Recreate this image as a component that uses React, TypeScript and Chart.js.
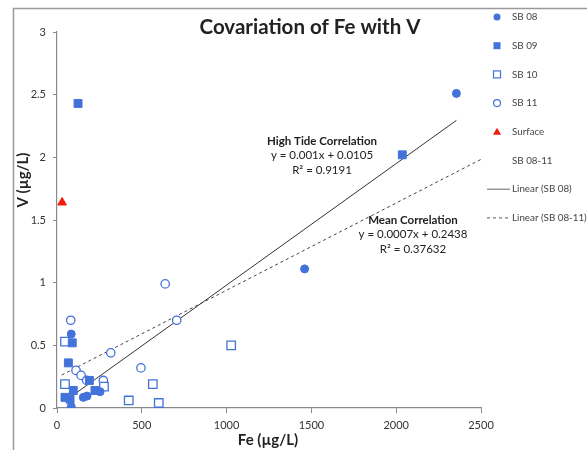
import { useEffect, useRef } from "react";
import { Chart, registerables } from "chart.js";

Chart.register(...registerables);

// ---- data ----
const sb08X = [2355, 1460, 84, 84, 155, 177, 254];
const sb08Y = [2.51, 1.11, 0.59, 0.01, 0.085, 0.095, 0.13];

const sb09X = [124, 2036, 90, 67, 191, 96, 47, 77, 224];
const sb09Y = [2.43, 2.02, 0.52, 0.36, 0.22, 0.14, 0.085, 0.07, 0.14];

const sb10X = [47, 47, 277, 423, 565, 600, 1027];
const sb10Y = [0.53, 0.19, 0.17, 0.06, 0.19, 0.04, 0.5];

const sb11X = [81, 112, 142, 175, 273, 317, 495, 638, 706];
const sb11Y = [0.7, 0.3, 0.26, 0.22, 0.22, 0.44, 0.32, 0.99, 0.7];

const surfaceX = [30];
const surfaceY = [1.64];

// trendlines: [slope, intercept] and x-range drawn
const highTideFit = [0.00097, 0.0105];
const highTideRange = [82, 2355];
const meanFit = [0.000696, 0.2438];
const meanRange = [28, 2500];

const xTickValues = [0, 500, 1000, 1500, 2000, 2500];
const yTickValues = [0, 0.5, 1, 1.5, 2, 2.5, 3];

const legendLabels = [
  "SB 08",
  "SB 09",
  "SB 10",
  "SB 11",
  "Surface",
  "SB 08-11",
  "Linear (SB 08)",
  "Linear (SB 08-11)",
];

const titleText = "Covariation of Fe with V";
const xTitle = "Fe (µg/L)";
const yTitle = "V (µg/L)";
const highTideLines = ["High Tide Correlation", "y = 0.001x + 0.0105", "R² = 0.9191"];
const meanLines = ["Mean Correlation", "y = 0.0007x + 0.2438", "R² = 0.37632"];

// ---- styles ----
const FONT = "Lato, 'Open Sans', sans-serif";
const BLUE = "#4472DB";
const RED = "#F21A0C";
const TEXT = "#222";
const AXIS = "#8a8a8a";

const zip = (xs: number[], ys: number[]) => xs.map((x, i) => ({ x, y: ys[i] }));
const fitLine = (fit: number[], range: number[]) =>
  range.map((x) => ({ x, y: fit[0] * x + fit[1] }));

type Marker = "circle" | "square" | "openSquare" | "openCircle" | "triangle" | "none" | "solid" | "dashed";
const legendMarkers: Marker[] = [
  "circle",
  "square",
  "openSquare",
  "openCircle",
  "triangle",
  "none",
  "solid",
  "dashed",
];

const decorPlugin = {
  id: "decor",
  beforeDraw(chart: any) {
    const ctx = chart.ctx;
    ctx.save();
    ctx.fillStyle = "#fff";
    ctx.fillRect(0, 0, chart.width, chart.height);
    // outer frame (top & left edges visible)
    ctx.strokeStyle = "#9a9a9a";
    ctx.lineWidth = 1.5;
    ctx.beginPath();
    ctx.moveTo(13.5, chart.height + 2);
    ctx.lineTo(13.5, 8.5);
    ctx.lineTo(chart.width + 2, 8.5);
    ctx.stroke();
    ctx.restore();
  },
  afterDraw(chart: any) {
    const ctx = chart.ctx;
    ctx.save();
    ctx.fillStyle = TEXT;
    ctx.textAlign = "center";
    ctx.textBaseline = "middle";

    // title
    ctx.font = `bold 20.5px ${FONT}`;
    ctx.fillText(titleText, 310, 27);

    // axis titles
    ctx.font = `bold 15px ${FONT}`;
    ctx.fillText(xTitle, 268, 440);
    ctx.save();
    ctx.translate(23, 180);
    ctx.rotate(-Math.PI / 2);
    ctx.fillText(yTitle, 0, 0);
    ctx.restore();

    // annotations
    const drawBlock = (lines: string[], cx: number, cy: number) => {
      lines.forEach((t, i) => {
        ctx.font = i === 0 ? `bold 11.5px ${FONT}` : `11.5px ${FONT}`;
        ctx.fillText(t, cx, cy + i * 14.5);
      });
    };
    drawBlock(highTideLines, 322, 141);
    drawBlock(meanLines, 413, 220);

    // legend
    ctx.textAlign = "left";
    ctx.font = `9.8px ${FONT}`;
    legendLabels.forEach((label, i) => {
      const y = 17 + i * 28.7;
      const mx = 497;
      const m = legendMarkers[i];
      ctx.fillStyle = BLUE;
      ctx.strokeStyle = BLUE;
      ctx.lineWidth = 1.2;
      if (m === "circle") {
        ctx.beginPath();
        ctx.arc(mx, y, 3.5, 0, Math.PI * 2);
        ctx.fill();
      } else if (m === "square") {
        ctx.fillRect(mx - 3.5, y - 3.5, 7, 7);
      } else if (m === "openSquare") {
        ctx.fillStyle = "#fff";
        ctx.fillRect(mx - 3.5, y - 3.5, 7, 7);
        ctx.strokeRect(mx - 3.5, y - 3.5, 7, 7);
      } else if (m === "openCircle") {
        ctx.fillStyle = "#fff";
        ctx.beginPath();
        ctx.arc(mx, y, 3.5, 0, Math.PI * 2);
        ctx.fill();
        ctx.stroke();
      } else if (m === "triangle") {
        ctx.fillStyle = RED;
        ctx.beginPath();
        ctx.moveTo(mx, y - 4);
        ctx.lineTo(mx + 4, y + 3);
        ctx.lineTo(mx - 4, y + 3);
        ctx.closePath();
        ctx.fill();
      } else if (m === "solid" || m === "dashed") {
        ctx.strokeStyle = m === "solid" ? "#666" : "#555";
        ctx.lineWidth = 1;
        ctx.setLineDash(m === "dashed" ? [3, 3] : []);
        ctx.beginPath();
        ctx.moveTo(487, y);
        ctx.lineTo(510, y);
        ctx.stroke();
        ctx.setLineDash([]);
      }
      ctx.fillStyle = "#444";
      ctx.fillText(label, 512, y);
    });
    ctx.restore();
  },
};

export default function App() {
  const ref = useRef<HTMLCanvasElement | null>(null);

  useEffect(() => {
    document.body.style.margin = "0";
    if (!ref.current) return;
    const chart = new Chart(ref.current, {
      type: "scatter",
      data: {
        datasets: [
          {
            label: legendLabels[6],
            type: "line",
            data: fitLine(highTideFit, highTideRange),
            borderColor: "#333",
            borderWidth: 1,
            pointRadius: 0,
            fill: false,
            order: 10,
          },
          {
            label: legendLabels[7],
            type: "line",
            data: fitLine(meanFit, meanRange),
            borderColor: "#444",
            borderWidth: 1,
            borderDash: [3, 3],
            pointRadius: 0,
            fill: false,
            order: 10,
          },
          {
            label: legendLabels[0],
            data: zip(sb08X, sb08Y),
            pointStyle: "circle",
            pointRadius: 4,
            backgroundColor: BLUE,
            borderColor: BLUE,
            borderWidth: 1,
            order: 1,
          },
          {
            label: legendLabels[1],
            data: zip(sb09X, sb09Y),
            pointStyle: "rect",
            pointRadius: 5.6,
            backgroundColor: BLUE,
            borderColor: BLUE,
            borderWidth: 1,
            order: 1,
          },
          {
            label: legendLabels[2],
            data: zip(sb10X, sb10Y),
            pointStyle: "rect",
            pointRadius: 6,
            backgroundColor: "#fff",
            borderColor: BLUE,
            borderWidth: 1.3,
            order: 1,
          },
          {
            label: legendLabels[3],
            data: zip(sb11X, sb11Y),
            pointStyle: "circle",
            pointRadius: 4.2,
            backgroundColor: "#fff",
            borderColor: BLUE,
            borderWidth: 1.3,
            order: 1,
          },
          {
            label: legendLabels[4],
            data: zip(surfaceX, surfaceY),
            pointStyle: "triangle",
            pointRadius: 5,
            backgroundColor: RED,
            borderColor: RED,
            borderWidth: 1,
            order: 1,
          },
          {
            label: legendLabels[5],
            data: [],
            pointRadius: 0,
            order: 1,
          },
        ],
      },
      options: {
        animation: false,
        responsive: false,
        devicePixelRatio: 1,
        layout: { padding: { top: 32, right: 106, left: 0, bottom: 0 } },
        plugins: {
          legend: { display: false },
          title: { display: false },
          tooltip: { enabled: false },
        },
        scales: {
          x: {
            type: "linear",
            min: 0,
            max: 2500,
            afterFit: (s: any) => {
              s.height = 42;
            },
            afterBuildTicks: (s: any) => {
              s.ticks = xTickValues.map((v) => ({ value: v }));
            },
            ticks: {
              color: "#333",
              font: { family: FONT, size: 11 },
              padding: 6,
              maxRotation: 0,
              callback: (v: any) => String(v),
            },
            grid: {
              drawOnChartArea: false,
              drawTicks: true,
              tickLength: 5,
              tickColor: AXIS,
            },
            border: { display: true, color: AXIS, width: 1.2 },
          },
          y: {
            type: "linear",
            min: 0,
            max: 3,
            afterFit: (s: any) => {
              s.width = 57;
            },
            afterBuildTicks: (s: any) => {
              s.ticks = yTickValues.map((v) => ({ value: v }));
            },
            ticks: {
              color: "#333",
              font: { family: FONT, size: 11 },
              padding: 7,
              callback: (v: any) => String(v),
            },
            grid: {
              drawOnChartArea: false,
              drawTicks: true,
              tickLength: 4,
              tickColor: AXIS,
            },
            border: { display: true, color: AXIS, width: 1.2 },
          },
        },
      },
      plugins: [decorPlugin],
    } as any);
    return () => chart.destroy();
  }, []);

  return (
    <div style={{ width: 587, height: 450 }}>
      <canvas ref={ref} width={587} height={450} style={{ width: 587, height: 450, display: "block" }} />
    </div>
  );
}
